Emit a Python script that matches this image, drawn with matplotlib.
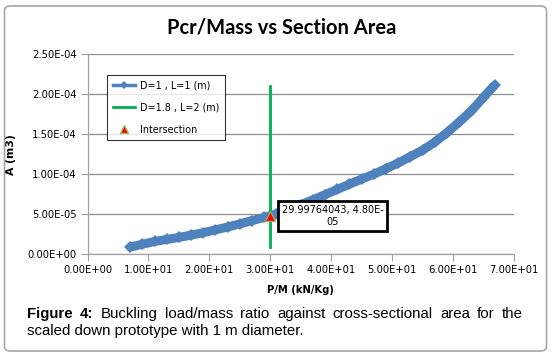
import matplotlib
matplotlib.use('Agg')
import matplotlib.pyplot as plt
from matplotlib.lines import Line2D
from matplotlib.patches import FancyBboxPatch

# 曲线数据
pm_values = [7.0, 9, 11, 13, 15, 17, 19, 21, 23, 25, 27, 29, 30, 31, 33, 35, 37, 39,
             41, 43, 45, 47, 49, 51, 53, 55, 57, 59, 61, 63, 65, 66.8]
area_values = [0.90e-5, 1.25e-5, 1.60e-5, 1.85e-5, 2.10e-5, 2.40e-5, 2.70e-5, 3.05e-5,
               3.40e-5, 3.80e-5, 4.20e-5, 4.60e-5, 4.80e-5, 5.05e-5, 5.60e-5, 6.20e-5,
               6.80e-5, 7.45e-5, 8.10e-5, 8.75e-5, 9.40e-5, 10.0e-5, 10.7e-5, 11.4e-5,
               12.2e-5, 13.0e-5, 14.0e-5, 15.2e-5, 16.5e-5, 17.9e-5, 19.6e-5, 21.1e-5]

# D=1.8, L=2 竖线
green_x = [30, 30]
green_y = [0.9e-5, 2.1e-4]

# 交点
inter_x = [29.99764043]
inter_y = [4.80e-5]
inter_label = '29.99764043, 4.80E-\n05'

x_ticks = [0, 10, 20, 30, 40, 50, 60, 70]
y_ticks = [0, 5e-5, 1e-4, 1.5e-4, 2e-4, 2.5e-4]
x_ticklabels = ['0.00E+00', '1.00E+01', '2.00E+01', '3.00E+01', '4.00E+01',
                '5.00E+01', '6.00E+01', '7.00E+01']
y_ticklabels = ['0.00E+00', '5.00E-05', '1.00E-04', '1.50E-04', '2.00E-04', '2.50E-04']

BLUE = '#4F81BD'
GREEN = '#00B050'

W, H = 553, 354
fig = plt.figure(figsize=(W / 100, H / 100), dpi=100)
fig.patch.set_facecolor('white')

# 外框
frame = FancyBboxPatch((4.5 / W, 3 / H), 542 / W, 345 / H,
                       boxstyle='round,pad=0,rounding_size=0.012',
                       transform=fig.transFigure, facecolor='none',
                       edgecolor='#A6A6A6', linewidth=1.2)
fig.patches.append(frame)

ax = fig.add_axes([87.5 / W, (H - 254.3) / H, (514 - 87.5) / W, (254.3 - 54) / H])

ax.plot(pm_values, area_values, color=BLUE, linewidth=6.5, marker='D',
        markersize=6, markeredgewidth=0, solid_capstyle='butt', zorder=3)
ax.plot(green_x, green_y, color=GREEN, linewidth=2, zorder=4)
ax.plot(inter_x, inter_y, linestyle='none', marker='^', markersize=7,
        markerfacecolor='#FF0000', markeredgecolor='#9BBB59',
        markeredgewidth=0.8, zorder=5)

ax.text(40.2, 4.8e-5, inter_label, ha='center', va='center', fontsize=7,
        family='DejaVu Sans', linespacing=1.3, zorder=6,
        bbox=dict(boxstyle='square,pad=0.4', facecolor='white',
                  edgecolor='black', linewidth=2))

ax.set_xlim(0, 70)
ax.set_ylim(0, 2.5e-4)
ax.set_xticks(x_ticks)
ax.set_xticklabels(x_ticklabels)
ax.set_yticks(y_ticks)
ax.set_yticklabels(y_ticklabels)
ax.tick_params(axis='both', labelsize=7.2, length=5, width=0.8,
               color='#A0A0A0', pad=3)
for lab in ax.get_xticklabels() + ax.get_yticklabels():
    lab.set_family('DejaVu Sans')

ax.grid(axis='y', color='#8C8C8C', linewidth=0.9)
ax.set_axisbelow(True)
for side in ['top', 'right']:
    ax.spines[side].set_visible(False)
for side in ['left', 'bottom']:
    ax.spines[side].set_color('#A0A0A0')
    ax.spines[side].set_linewidth(0.9)

ax.set_xlabel('P/M (kN/Kg)', fontsize=7.2, fontweight='bold',
              family='DejaVu Sans', labelpad=7)
ax.set_ylabel('A (m3)', fontsize=7.8, fontweight='bold',
              family='DejaVu Sans', labelpad=8)

handles = [
    Line2D([], [], color=BLUE, linewidth=2.5, marker='D', markersize=4,
           markeredgewidth=0),
    Line2D([], [], color=GREEN, linewidth=2),
    Line2D([], [], linestyle='none', marker='^', markersize=6,
           markerfacecolor='#FF0000', markeredgecolor='#9BBB59'),
]
labels = ['D=1 , L=1 (m)', 'D=1.8 , L=2 (m)', 'Intersection']
leg = ax.legend(handles, labels, loc='upper left', bbox_to_anchor=(0.0464, 0.895),
                borderaxespad=0, frameon=True, fancybox=False,
                handlelength=2.3, labelspacing=1.25, borderpad=0.6,
                handletextpad=0.55, prop={'family': 'DejaVu Sans', 'size': 6.9})
leg.get_frame().set_edgecolor('black')
leg.get_frame().set_linewidth(0.8)

fig.text(282 / W, 1 - 27 / H, 'Pcr/Mass vs Section Area', ha='center',
         va='center', fontsize=14.5, fontweight='bold', family='Lato')

# 图注（第一行两端对齐）
renderer = fig.canvas.get_renderer()
left_px, right_px = 27, 523
y1 = 1 - 314 / H
y2 = 1 - 331 / H
words = ['Figure', '4:', 'Buckling', 'load/mass', 'ratio', 'against',
         'cross-sectional', 'area', 'for', 'the']
texts = []
for i, w in enumerate(words):
    weight = 'bold' if i < 2 else 'normal'
    t = fig.text(0, y1, w, ha='left', va='center', fontsize=10.8,
                 family='Liberation Sans', fontweight=weight)
    texts.append(t)
widths = [t.get_window_extent(renderer).width for t in texts]
gap = (right_px - left_px - sum(widths)) / (len(words) - 1)
x = left_px
for t, w in zip(texts, widths):
    t.set_x(x / W)
    x += w + gap
fig.text(left_px / W, y2, 'scaled down prototype with 1 m diameter.', ha='left',
         va='center', fontsize=10.8, family='Liberation Sans')

fig.savefig('out.png', dpi=100, facecolor='white')
